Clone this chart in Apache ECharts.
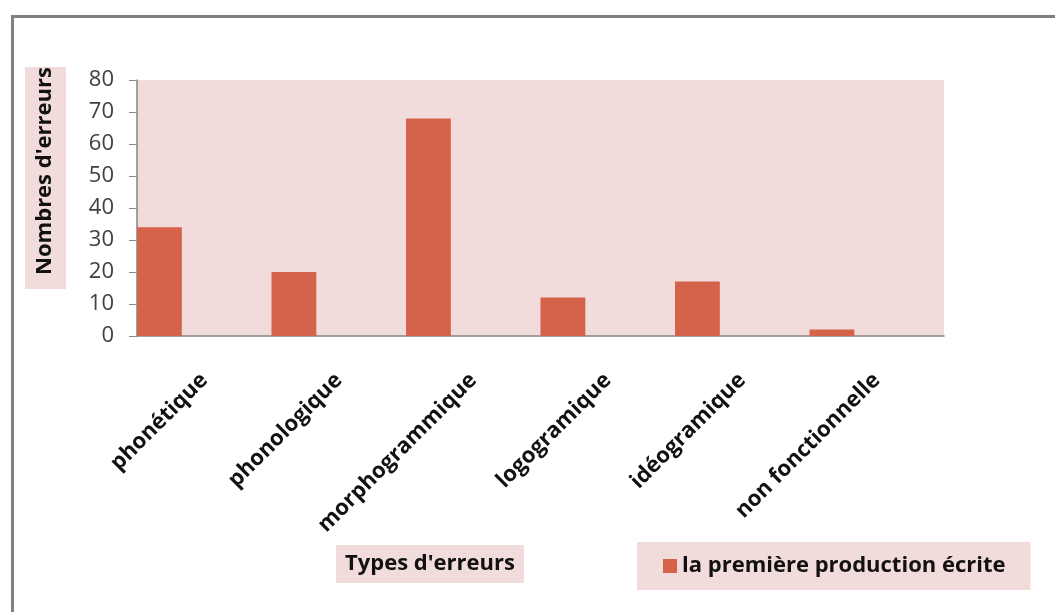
<!DOCTYPE html>
<html>
<head>
<meta charset="utf-8">
<script src="https://cdn.jsdelivr.net/npm/echarts@6/dist/echarts.min.js"></script>
<style>
html,body{margin:0;padding:0;background:#fff;}
#chart{width:1055px;height:612px;}
</style>
</head>
<body>
<div id="chart"></div>
<script>
const categories = ['phonétique', 'phonologique', 'morphogrammique', 'logogramique', 'idéogramique', 'non fonctionnelle'];
const valuesFirst = [34, 20, 68, 12, 17, 2];
const seriesName = 'la première production écrite';
const yTicks = [0, 10, 20, 30, 40, 50, 60, 70, 80];
const yTitle = "Nombres d'erreurs";
const xTitle = "Types d'erreurs";

const FONT = 'Open Sans';
const PINK = '#F2DCDB';
const BAR = '#D5624A';
const AXIS = '#868686';

const chart = echarts.init(document.getElementById('chart'));
chart.setOption({
  animation: false,
  backgroundColor: '#ffffff',
  textStyle: { fontFamily: FONT },
  grid: { left: 137, top: 80, right: 111, bottom: 276, backgroundColor: PINK, show: true, borderWidth: 0 },
  xAxis: {
    type: 'category',
    data: categories,
    axisLine: { lineStyle: { color: AXIS, width: 1.5 } },
    axisTick: { show: false },
    axisLabel: { interval: 0, rotate: 45, fontFamily: FONT, fontWeight: 'bold', fontSize: 22, color: '#111', margin: 41 }
  },
  yAxis: {
    type: 'value',
    min: yTicks[0],
    max: yTicks[yTicks.length - 1],
    interval: 10,
    axisLine: { show: true, lineStyle: { color: AXIS, width: 1.5 } },
    axisTick: { show: true, length: 8, lineStyle: { color: AXIS } },
    splitLine: { show: false },
    axisLabel: { fontFamily: FONT, fontSize: 22, color: '#404040', margin: 23 }
  },
  legend: {
    data: [seriesName],
    left: 637,
    top: 542,
    backgroundColor: PINK,
    padding: [13, 25, 13, 26],
    icon: 'rect',
    itemWidth: 14,
    itemHeight: 14,
    itemGap: 8,
    textStyle: { fontFamily: FONT, fontWeight: 'bold', fontSize: 22, color: '#111' }
  },
  title: {
    text: xTitle,
    left: 336,
    top: 545,
    backgroundColor: PINK,
    padding: [8, 9, 8, 9],
    textStyle: { fontFamily: FONT, fontWeight: 'bold', fontSize: 22, color: '#111' }
  },
  graphic: [
    { type: 'rect', left: 10, top: 14, shape: { width: 1100, height: 700 }, style: { fill: 'none', stroke: '#808080', lineWidth: 3 }, silent: true },
    { type: 'rect', left: 25, top: 67, shape: { width: 41, height: 222 }, style: { fill: PINK }, silent: true },
    { type: 'text', x: 45, y: 171, rotation: Math.PI / 2, style: { text: yTitle, fontFamily: FONT, fontWeight: 'bold', fontSize: 22, fill: '#111', align: 'center', verticalAlign: 'middle' }, silent: true }
  ],
  series: [
    { name: seriesName, type: 'bar', data: valuesFirst, itemStyle: { color: BAR }, barGap: '0%', barCategoryGap: '0%' },
    { name: 'empty2', type: 'bar', data: valuesFirst.map(() => null), barGap: '0%', barCategoryGap: '0%' },
    { name: 'empty3', type: 'bar', data: valuesFirst.map(() => null), barGap: '0%', barCategoryGap: '0%' }
  ]
});
</script>
</body>
</html>
